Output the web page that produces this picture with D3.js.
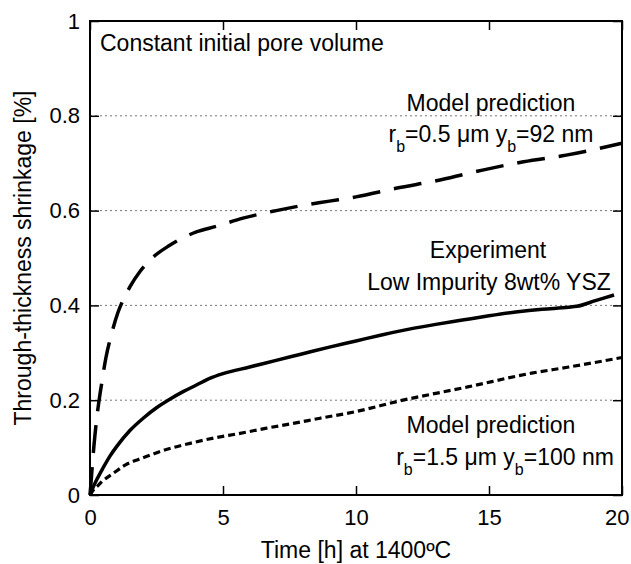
<!DOCTYPE html>
<html>
<head>
<meta charset="utf-8">
<script src="https://cdn.jsdelivr.net/npm/d3@7/dist/d3.min.js"></script>
<style>
  html, body { margin: 0; padding: 0; background: #fff; }
  svg { display: block; font-family: "Liberation Sans", Arial, sans-serif; }
</style>
</head>
<body>
<svg id="chart" width="631" height="564"></svg>
<script>
// Tick values
const xTicks = [0, 5, 10, 15, 20];
const yTicks = [0, 0.2, 0.4, 0.6, 0.8, 1];
const gridValues = [0.2, 0.4, 0.6, 0.8];

// Experiment: low impurity 8wt% YSZ (time in h, shrinkage in %)
const expTime  = [0, 0.1, 0.25, 0.5, 0.75, 1.0, 1.5, 2.0, 2.5, 3.0, 3.5, 4.0, 4.5, 5.0, 6, 7, 8, 9, 10, 11, 12, 13, 14, 15, 16, 17, 18, 18.3, 19, 19.7];
const expValue = [0, 0.014, 0.032, 0.058, 0.082, 0.102, 0.136, 0.162, 0.184, 0.202, 0.218, 0.232, 0.246, 0.256, 0.27, 0.284, 0.298, 0.312, 0.325, 0.338, 0.35, 0.36, 0.369, 0.378, 0.386, 0.392, 0.396, 0.398, 0.41, 0.422];

// Model prediction, rb = 0.5 um, yb = 92 nm
const modelATime  = [0, 0.03, 0.07, 0.15, 0.25, 0.44, 0.6, 0.82, 1.05, 1.24, 1.5, 1.9, 2.26, 3.0, 4.0, 4.76, 5.75, 7, 8, 9, 10, 11.5, 13.2, 14.8, 16.3, 17.9, 20];
const modelAValue = [0, 0.02, 0.05, 0.105, 0.16, 0.236, 0.29, 0.342, 0.385, 0.411, 0.439, 0.473, 0.496, 0.527, 0.555, 0.567, 0.584, 0.6, 0.611, 0.62, 0.629, 0.647, 0.665, 0.686, 0.703, 0.717, 0.742];

// Model prediction, rb = 1.5 um, yb = 100 nm
const modelBTime  = [0, 0.15, 0.3, 0.44, 0.88, 1.32, 1.82, 2.26, 2.7, 3.76, 4.64, 5.64, 6.64, 7.64, 8.65, 10, 11.6, 14.2, 16.6, 18, 20];
const modelBValue = [0, 0.012, 0.02, 0.028, 0.046, 0.063, 0.075, 0.084, 0.093, 0.109, 0.12, 0.13, 0.141, 0.151, 0.162, 0.176, 0.198, 0.228, 0.257, 0.27, 0.29];

const svg = d3.select("#chart");
const margin = { top: 21, right: 9, bottom: 69, left: 90 };
const W = 631, H = 564;
const iw = W - margin.left - margin.right;
const ih = H - margin.top - margin.bottom;

const x = d3.scaleLinear().domain([0, 20]).range([0, iw]);
const y = d3.scaleLinear().domain([0, 1]).range([ih, 0]);

const g = svg.append("g").attr("transform", `translate(${margin.left},${margin.top})`);

// dotted horizontal grid
g.append("g").selectAll("line").data(gridValues).join("line")
  .attr("x1", 0).attr("x2", iw)
  .attr("y1", d => y(d)).attr("y2", d => y(d))
  .attr("stroke", "#777").attr("stroke-width", 1).attr("stroke-dasharray", "2,3");

// axes with inward ticks on all four sides
const tickFont = "22px";
const bottom = g.append("g").attr("transform", `translate(0,${ih})`)
  .call(d3.axisBottom(x).tickValues(xTicks).tickSizeInner(-9).tickSizeOuter(0).tickPadding(14).tickFormat(d3.format("d")));
const left = g.append("g")
  .call(d3.axisLeft(y).tickValues(yTicks).tickSizeInner(-9).tickSizeOuter(0).tickPadding(10).tickFormat(d => d === 0 ? "0" : d === 1 ? "1" : d3.format(".1f")(d)));
g.append("g")
  .call(d3.axisTop(x).tickValues(xTicks).tickSizeInner(-9).tickSizeOuter(0).tickFormat(""));
g.append("g").attr("transform", `translate(${iw},0)`)
  .call(d3.axisRight(y).tickValues(yTicks).tickSizeInner(-9).tickSizeOuter(0).tickFormat(""));

g.selectAll(".domain").remove();
g.selectAll(".tick line").attr("stroke", "#000").attr("stroke-width", 1.5);
[bottom, left].forEach(a => a.selectAll("text")
  .attr("font-size", tickFont).attr("fill", "#000")
  .attr("font-family", '"Liberation Sans", Arial, sans-serif'));
// keep the last x label inside the page edge
bottom.selectAll(".tick text").filter(d => d === 20).attr("text-anchor", "end").attr("dx", "7");

// curves
const line = d3.line().curve(d3.curveMonotoneX).x(d => x(d[0])).y(d => y(d[1]));
const zip = (a, b) => a.map((v, i) => [v, b[i]]);

g.append("path").datum(zip(modelATime, modelAValue)).attr("d", line)
  .attr("fill", "none").attr("stroke", "#000").attr("stroke-width", 3.5)
  .attr("stroke-dasharray", "28,14");
g.append("path").datum(zip(modelBTime, modelBValue)).attr("d", line)
  .attr("fill", "none").attr("stroke", "#000").attr("stroke-width", 3.2)
  .attr("stroke-dasharray", "7,4");
g.append("path").datum(zip(expTime, expValue)).attr("d", line)
  .attr("fill", "none").attr("stroke", "#000").attr("stroke-width", 3.5)
  .attr("stroke-linejoin", "round");

// frame
g.append("rect").attr("x", 0).attr("y", 0).attr("width", iw).attr("height", ih)
  .attr("fill", "none").attr("stroke", "#000").attr("stroke-width", 2);

// axis titles
svg.append("text").attr("x", 356).attr("y", 558).attr("text-anchor", "middle")
  .attr("font-size", "23px").text("Time [h] at 1400ºC");
svg.append("text").attr("transform", `translate(31,${margin.top + ih / 2}) rotate(-90)`)
  .attr("text-anchor", "middle").attr("font-size", "23px")
  .text("Through-thickness shrinkage [%]");

// annotations
const ann = svg.append("g").attr("font-size", "23px").attr("fill", "#000");
ann.append("text").attr("x", 100).attr("y", 51).text("Constant initial pore volume");
ann.append("text").attr("x", 491).attr("y", 111).attr("text-anchor", "middle").text("Model prediction");
ann.append("text").attr("x", 488).attr("y", 258).attr("text-anchor", "middle").text("Experiment");
ann.append("text").attr("x", 489).attr("y", 290).attr("text-anchor", "middle").text("Low Impurity 8wt% YSZ");
ann.append("text").attr("x", 491).attr("y", 433).attr("text-anchor", "middle").text("Model prediction");

function paramLabel(cx, by, r, yb) {
  const t = ann.append("text").attr("x", cx).attr("y", by).attr("text-anchor", "middle");
  t.append("tspan").text("r");
  t.append("tspan").attr("font-size", "16px").attr("dy", 10).text("b");
  t.append("tspan").attr("dy", -10).text(`=${r} μm y`);
  t.append("tspan").attr("font-size", "16px").attr("dy", 10).text("b");
  t.append("tspan").attr("dy", -10).text(`=${yb} nm`);
}
paramLabel(491, 142, "0.5", "92");
paramLabel(505, 465, "1.5", "100");
</script>
</body>
</html>
